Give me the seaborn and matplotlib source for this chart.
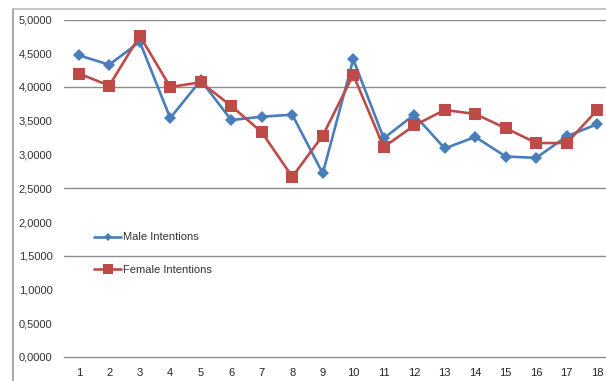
import matplotlib
matplotlib.use("Agg")
import matplotlib.pyplot as plt
import seaborn as sns
import pandas as pd
from matplotlib.lines import Line2D
from matplotlib.ticker import FuncFormatter

categories = list(range(1, 19))
male = [4.47, 4.33, 4.67, 3.54, 4.10, 3.51, 3.56, 3.59, 2.72, 4.41, 3.24, 3.59,
        3.09, 3.26, 2.97, 2.95, 3.27, 3.45]
female = [4.20, 4.02, 4.76, 4.00, 4.07, 3.72, 3.33, 2.67, 3.28, 4.18, 3.11, 3.43,
          3.66, 3.60, 3.39, 3.17, 3.17, 3.66]
series_names = ["Male Intentions", "Female Intentions"]
yticks = [0.0, 0.5, 1.0, 1.5, 2.0, 2.5, 3.0, 3.5, 4.0, 4.5, 5.0]
visible_grid = [5.0, 4.0, 2.5, 1.5]

sns.set_style("white")
plt.rcParams['font.family'] = ['Liberation Sans', 'DejaVu Sans']

W, H = 606, 381
fig = plt.figure(figsize=(W / 100, H / 100), dpi=100)
left_px, right_px, top_px, bottom_px = 63.5, 612.5, 19.5, 357
ax = fig.add_axes([left_px / W, (H - bottom_px) / H,
                   (right_px - left_px) / W, (bottom_px - top_px) / H])

df = pd.DataFrame({"x": list(range(len(categories))) * 2,
                   "value": male + female,
                   "series": [series_names[0]] * len(male) + [series_names[1]] * len(female)})

blue = "#4A7EBB"
red = "#BE4B48"
sns.lineplot(data=df, x="x", y="value", hue="series", style="series",
             palette=[blue, red], markers=["D", "s"], dashes=False,
             markersize=7, linewidth=1.9, markeredgewidth=0, ax=ax, legend=False)
lines = ax.get_lines()
if len(lines) >= 2:
    lines[0].set_markersize(6.5)
    lines[1].set_markersize(9)

for g in visible_grid:
    ax.axhline(g, color="#8C8C8C", lw=1.0, zorder=0)

ax.set_ylim(0, 5)
ax.set_xlim(-0.5, len(categories) - 0.5)
ax.set_yticks(yticks)
ax.yaxis.set_major_formatter(FuncFormatter(lambda v, p: f"{v:.4f}".replace(".", ",")))
ax.set_xticks(range(len(categories)))
ax.set_xticklabels([str(c) for c in categories])
ax.set_xticks([i - 0.5 for i in range(len(categories) + 1)], minor=True)
ax.tick_params(axis="x", which="major", length=0, labelsize=8, colors="#222222", pad=8)
ax.tick_params(axis="x", which="minor", length=3, color="#9A9A9A", width=1, direction="out")
ax.tick_params(axis="y", length=3, color="#9A9A9A", width=1, direction="out",
               labelsize=8, pad=5)
for lbl in ax.get_yticklabels():
    lbl.set_color("#333333")
for s in ["top", "right", "left"]:
    ax.spines[s].set_visible(False)
ax.spines["bottom"].set_color("#8C8C8C")
ax.spines["bottom"].set_linewidth(1.0)
ax.set_xlabel("")
ax.set_ylabel("")

handles = [Line2D([], [], color=blue, marker="D", markersize=4, lw=1.9, markeredgewidth=0),
           Line2D([], [], color=red, marker="s", markersize=6.5, lw=1.9, markeredgewidth=0)]
leg = ax.legend(handles, series_names, loc="upper left",
                bbox_to_anchor=((90 - left_px) / (right_px - left_px),
                                (bottom_px - 228) / (bottom_px - top_px)),
                frameon=False, fontsize=8, handlelength=2.4, handletextpad=0.15,
                labelspacing=2.0, borderaxespad=0)
for t in leg.get_texts():
    t.set_color("#333333")

# outer chart frame
fig.add_artist(Line2D([13 / W, 13 / W], [0, 1 - 9 / H], color="#9A9A9A", lw=1.2,
                      transform=fig.transFigure))
fig.add_artist(Line2D([13 / W, 1], [1 - 9 / H, 1 - 9 / H], color="#BBBBBB", lw=1.2,
                      transform=fig.transFigure))

fig.savefig("out.png", dpi=100)
